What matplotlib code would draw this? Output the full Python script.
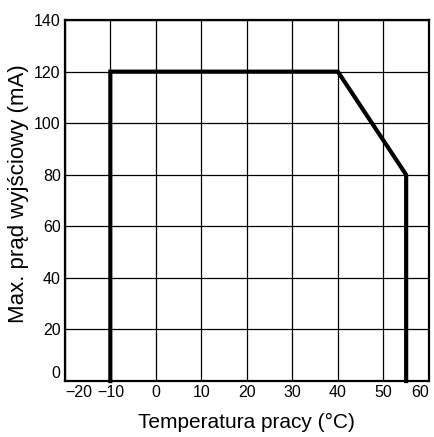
import matplotlib
matplotlib.use("Agg")
import matplotlib.pyplot as plt
from matplotlib import font_manager

temp = [-10, -10, 40, 55, 55]
current = [0, 120, 120, 80, 0]
xticks = [-20, -10, 0, 10, 20, 30, 40, 50, 60]
yticks = [0, 20, 40, 60, 80, 100, 120, 140]

names = {f.name for f in font_manager.fontManager.ttflist}
tickfont = "Liberation Sans Narrow" if "Liberation Sans Narrow" in names else "Liberation Sans"

fig = plt.figure(figsize=(4.35, 4.37), dpi=100)
ax = fig.add_axes([0.149, 0.128, 0.837, 0.826])
ax.plot(temp, current, color="black", lw=3, solid_joinstyle="miter", clip_on=False, zorder=3)
ax.set_xlim(-20, 60)
ax.set_ylim(0, 140)
ax.set_xticks(xticks)
ax.set_yticks(yticks)
xl = ax.set_xticklabels([("\u2212" + str(-t)) if t < 0 else str(t) for t in xticks], fontfamily=tickfont, fontsize=11.5)
yl = ax.set_yticklabels([str(t) for t in yticks], fontfamily=tickfont, fontsize=11.5)
xl[0].set_ha("left")
xl[-1].set_ha("right")
yl[0].set_va("bottom")
ax.grid(True, color="black", lw=0.9)
ax.tick_params(length=0)
ax.tick_params(axis="x", pad=3)
ax.tick_params(axis="y", pad=3)
for s in ax.spines.values():
    s.set_linewidth(1.6)
ax.set_xlabel("Temperatura pracy (°C)", fontfamily="Liberation Sans", fontsize=15, labelpad=9)
ax.set_ylabel("Max. prąd wyjściowy (mA)", fontfamily="Liberation Sans", fontsize=16, labelpad=0)
ax.yaxis.set_label_coords(-0.099, 0.519)
fig.savefig("out.png", dpi=100)
